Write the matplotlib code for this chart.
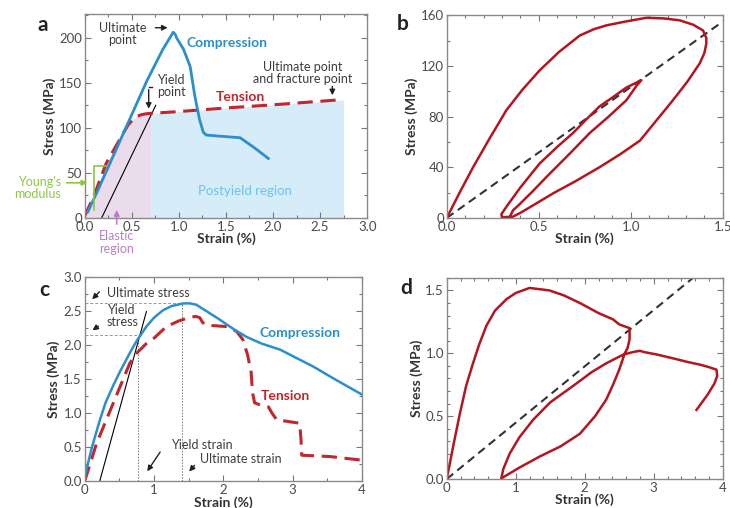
import matplotlib
matplotlib.use("Agg")
import matplotlib.pyplot as plt
from matplotlib.ticker import MultipleLocator

plt.rcParams['font.family'] = ['Lato', 'DejaVu Sans']

# colours
BLUE = '#2b8fcb'
RED = '#c1272d'
DARKRED = '#b3161f'
GREY = '#3c3c3c'
GREEN = '#8cc63f'
PURPLE = '#b681c6'

# panel a: compression vs tension
a_comp_x = [0.035, 0.15, 0.30, 0.48, 0.66, 0.83, 0.94, 0.96, 0.975, 1.05, 1.12, 1.17, 1.22, 1.26, 1.29, 1.40, 1.65, 1.80, 1.95]
a_comp_y = [7, 33, 68, 110, 152, 187, 206, 204, 200, 187, 168, 135, 109, 95, 92, 91, 89, 78, 66]
a_tens_x = [0.0, 0.10, 0.23, 0.41, 0.46, 0.51, 0.55, 0.60, 0.65, 0.70, 1.00, 1.50, 2.00, 2.70]
a_tens_y = [2, 25, 61, 94, 103, 109, 112.5, 114.5, 115.5, 116, 118, 122, 125.5, 131]
a_fit_x = [0.18, 0.755]
a_fit_y = [0, 125]
a_elastic_x = [0.0, 0.10, 0.23, 0.41, 0.46, 0.51, 0.55, 0.60, 0.65, 0.70]
a_elastic_y = [0, 25, 61, 94, 103, 109, 112.5, 114.5, 115.5, 116]
a_post_x = [0.70, 1.00, 1.50, 2.00, 2.75]
a_post_y = [116, 118, 122, 125.5, 131]

# panel b: loading loops
b_x = [0.0, 0.07, 0.143, 0.23, 0.324, 0.41, 0.505, 0.61, 0.723, 0.80, 0.868, 0.97, 1.085, 1.18, 1.266, 1.34, 1.393,
       1.411, 1.411, 1.40, 1.375, 1.31, 1.23, 1.14, 1.05, 0.94, 0.83, 0.70, 0.578, 0.47, 0.40, 0.36,
       0.30, 0.297, 0.33, 0.40, 0.505, 0.60, 0.686, 0.76, 0.83, 0.90, 0.977, 1.058,
       1.03, 0.977, 0.88, 0.777, 0.67, 0.56, 0.46, 0.39, 0.36, 0.34]
b_y = [0, 20, 40, 62, 85, 101, 116.5, 131, 144, 149, 152, 155, 158, 157.5, 156, 152.5, 148,
       142, 137.6, 130, 122, 108, 93, 77, 61, 50, 40, 29, 19.4, 10, 4, 1,
       0.5, 3, 10, 24, 43, 56, 67, 78, 88, 95, 103, 108.7,
       104, 93, 80, 67, 51, 35, 20, 10, 6, 0]
b_ref_x = [0.0, 1.5]
b_ref_y = [0, 155]

# panel c
c_comp_x = [0.0, 0.1, 0.217, 0.3, 0.41, 0.5, 0.65, 0.75, 0.89, 1.0, 1.13, 1.25, 1.42, 1.52, 1.61, 1.75,
            1.95, 2.15, 2.33, 2.55, 2.82, 3.05, 3.30, 3.6, 4.0]
c_comp_y = [0.06, 0.48, 0.89, 1.15, 1.40, 1.59, 1.88, 2.06, 2.27, 2.40, 2.51, 2.57, 2.61, 2.61, 2.59, 2.50,
            2.37, 2.23, 2.12, 2.02, 1.93, 1.81, 1.68, 1.50, 1.27]
c_tens_x = [0.0, 0.17, 0.41, 0.65, 0.75, 0.89, 1.0, 1.18, 1.35, 1.5, 1.6, 1.66, 1.70, 1.76, 2.05, 2.19, 2.28,
            2.35, 2.40, 2.42, 2.45, 2.55, 2.65, 2.70, 2.77, 3.10, 3.12, 3.13, 3.54, 3.97]
c_tens_y = [0.0, 0.55, 1.14, 1.73, 1.88, 2.02, 2.10, 2.27, 2.35, 2.40, 2.42, 2.40, 2.33, 2.29, 2.27, 2.20, 2.08,
            1.85, 1.60, 1.30, 1.15, 1.11, 1.09, 1.00, 0.90, 0.85, 0.60, 0.38, 0.36, 0.31]
c_fit_x = [0.217, 0.89]
c_fit_y = [0.0, 2.49]
c_yield_x, c_yield_y = 0.77, 2.14
c_ult_x, c_ult_y = 1.40, 2.61

# panel d
d_x = [0.0, 0.1, 0.19, 0.28, 0.38, 0.47, 0.575, 0.7, 0.865, 1.0, 1.2, 1.49, 1.7, 1.93, 2.2, 2.41, 2.5, 2.6, 2.65,
       2.65, 2.62, 2.58, 2.5, 2.41, 2.31, 2.15, 1.93, 1.65, 1.35, 1.05, 0.79,
       0.82, 0.91, 1.05, 1.25, 1.5, 1.83, 2.1, 2.31, 2.56, 2.70, 2.80, 2.86, 3.05, 3.28, 3.5, 3.67, 3.8, 3.91,
       3.92, 3.88, 3.78, 3.62]
d_y = [0.0, 0.28, 0.52, 0.74, 0.92, 1.07, 1.22, 1.34, 1.43, 1.48, 1.52, 1.50, 1.46, 1.40, 1.32, 1.27, 1.23, 1.21, 1.20,
       1.11, 1.04, 1.0, 0.87, 0.75, 0.63, 0.5, 0.36, 0.26, 0.18, 0.09, 0.005,
       0.08, 0.20, 0.33, 0.47, 0.61, 0.74, 0.85, 0.92, 0.99, 1.01, 1.02, 1.01, 0.99, 0.96, 0.93, 0.91, 0.89, 0.87,
       0.82, 0.76, 0.67, 0.55]
d_ref_x = [0.0, 3.57]
d_ref_y = [0.0, 1.60]


def style_axes(ax, xmaj, xmin, ymaj, ymin):
    ax.xaxis.set_major_locator(MultipleLocator(xmaj))
    ax.xaxis.set_minor_locator(MultipleLocator(xmin))
    ax.yaxis.set_major_locator(MultipleLocator(ymaj))
    ax.yaxis.set_minor_locator(MultipleLocator(ymin))
    ax.tick_params(which='both', direction='in', top=True, right=True, color='#777777',
                   labelsize=9.5, labelcolor='#4a4a4a', pad=2)
    ax.tick_params(which='major', length=4, width=0.8)
    ax.tick_params(which='minor', length=2.5, width=0.8)
    for s in ax.spines.values():
        s.set_color('#8a8a8a')
        s.set_linewidth(1.0)
    ax.set_xlabel('Strain (%)', fontsize=10, fontweight='bold', color='#333333', labelpad=0)
    ax.set_ylabel('Stress (MPa)', fontsize=10, fontweight='bold', color='#333333', labelpad=2)


fig = plt.figure(figsize=(7.3, 5.08), dpi=100)
ax_a = fig.add_axes([0.116, 0.571, 0.387, 0.401])
ax_b = fig.add_axes([0.612, 0.571, 0.378, 0.399])
ax_c = fig.add_axes([0.116, 0.053, 0.380, 0.402])
ax_d = fig.add_axes([0.612, 0.057, 0.378, 0.396])

arrow = dict(arrowstyle='-|>', color='#222222', lw=1.0, mutation_scale=8)

# ---- a
ax = ax_a
ax.fill_between(a_elastic_x, 0, a_elastic_y, color='#eadcec', lw=0)
ax.fill_between(a_post_x, 0, a_post_y, color='#d6ecf9', lw=0)
ax.plot(a_fit_x, a_fit_y, color='black', lw=0.8)
ax.plot(a_tens_x, a_tens_y, color=RED, lw=2.2, dashes=(5, 2.5))
ax.plot(a_comp_x, a_comp_y, color=BLUE, lw=2)
ax.set_xlim(0, 3.0)
ax.set_ylim(0, 226)
style_axes(ax, 0.5, 0.25, 50, 25)
ax.xaxis.set_major_formatter(lambda v, p: f'{v:.1f}')
ax.plot([0.096, 0.096, 0.23], [9, 58, 58], color=GREEN, lw=1.2, clip_on=False)
ax.text(-0.25, 33, "Young's\nmodulus", ha='right', va='center', color=GREEN, fontsize=9, linespacing=1.0)
ax.annotate('', xy=(0.06, 39), xytext=(-0.22, 39), annotation_clip=False,
            arrowprops=dict(arrowstyle='-|>', color=GREEN, lw=1.2, mutation_scale=8))
ax.annotate('Elastic\nregion', xy=(0.34, 12), xytext=(0.34, -13), ha='center', va='top',
            color=PURPLE, fontsize=9, linespacing=1.1, annotation_clip=False,
            arrowprops=dict(arrowstyle='-|>', color=PURPLE, lw=1.2, mutation_scale=8))
ax.text(1.70, 30, 'Postyield region', ha='center', va='center', color='#6cc3ea', fontsize=9.5)
ax.text(0.40, 204, 'Ultimate\npoint', ha='center', va='center', color=GREY, fontsize=9, linespacing=1.0)
ax.annotate('', xy=(0.91, 211), xytext=(0.72, 211), arrowprops=arrow)
ax.text(1.51, 194, 'Compression', ha='center', va='center', color=BLUE, fontsize=10, fontweight='bold')
ax.text(0.77, 146, 'Yield\npoint', ha='left', va='center', color=GREY, fontsize=9, linespacing=1.0)
ax.plot([0.72, 0.68], [145, 145], color='#222222', lw=1.0)
ax.annotate('', xy=(0.68, 118), xytext=(0.68, 145.5), arrowprops=arrow)
ax.text(1.65, 134, 'Tension', ha='center', va='center', color=RED, fontsize=10, fontweight='bold')
ax.text(2.32, 161, 'Ultimate point\nand fracture point', ha='center', va='center', color=GREY,
        fontsize=9, linespacing=1.05)
ax.annotate('', xy=(2.63, 133), xytext=(2.63, 149), arrowprops=arrow)
ax.text(-0.50, 214, 'a', fontsize=15, fontweight='bold', ha='left', va='center', color='#222222')

# ---- b
ax = ax_b
ax.plot(b_ref_x, b_ref_y, color='#333333', lw=1.5, dashes=(4, 2.5))
ax.plot(b_x, b_y, color=DARKRED, lw=1.8)
ax.set_xlim(0, 1.5)
ax.set_ylim(0, 160)
style_axes(ax, 0.5, 0.1, 40, 20)
ax.xaxis.set_major_formatter(lambda v, p: f'{v:.1f}')
ax.text(-0.27, 153, 'b', fontsize=15, fontweight='bold', ha='left', va='center', color='#222222')

# ---- c
ax = ax_c
ax.plot([0, 1.62], [c_ult_y, c_ult_y], color='#999999', lw=0.7, dashes=(3, 2))
ax.plot([0, c_yield_x], [c_yield_y, c_yield_y], color='#999999', lw=0.7, dashes=(3, 2))
ax.plot([c_yield_x, c_yield_x], [0, c_yield_y], color='#777777', lw=0.7, dashes=(1.5, 1.5))
ax.plot([c_ult_x, c_ult_x], [0, c_ult_y], color='#777777', lw=0.7, dashes=(1.5, 1.5))
ax.plot(c_fit_x, c_fit_y, color='black', lw=0.8)
ax.plot(c_tens_x, c_tens_y, color=RED, lw=2.2, dashes=(5, 2.5))
ax.plot(c_comp_x, c_comp_y, color=BLUE, lw=1.8)
ax.set_xlim(0, 4)
ax.set_ylim(0, 3.0)
style_axes(ax, 1, 0.5, 0.5, 0.25)
ax.yaxis.set_major_formatter(lambda v, p: f'{v:.1f}')
ax.text(0.32, 2.77, 'Ultimate stress', ha='left', va='center', color=GREY, fontsize=9)
ax.annotate('', xy=(0.08, 2.64), xytext=(0.24, 2.81), arrowprops=arrow)
ax.text(0.32, 2.42, 'Yield\nstress', ha='left', va='center', color=GREY, fontsize=9, linespacing=1.0)
ax.annotate('', xy=(0.08, 2.19), xytext=(0.23, 2.30), arrowprops=arrow)
ax.text(1.24, 0.53, 'Yield strain', ha='left', va='center', color=GREY, fontsize=9)
ax.annotate('', xy=(0.88, 0.11), xytext=(1.11, 0.46), arrowprops=arrow)
ax.text(1.66, 0.33, 'Ultimate strain', ha='left', va='center', color=GREY, fontsize=9)
ax.annotate('', xy=(1.48, 0.11), xytext=(1.61, 0.26), arrowprops=arrow)
ax.text(3.10, 2.18, 'Compression', ha='center', va='center', color=BLUE, fontsize=10, fontweight='bold')
ax.text(2.90, 1.25, 'Tension', ha='center', va='center', color=RED, fontsize=10, fontweight='bold')
ax.text(-0.66, 2.81, 'c', fontsize=15, fontweight='bold', ha='left', va='center', color='#222222')

# ---- d
ax = ax_d
ax.plot(d_ref_x, d_ref_y, color='#333333', lw=1.5, dashes=(4, 2.5))
ax.plot(d_x, d_y, color=DARKRED, lw=1.8)
ax.set_xlim(0, 4)
ax.set_ylim(0, 1.6)
style_axes(ax, 1, 0.2, 0.5, 0.1)
ax.yaxis.set_major_formatter(lambda v, p: f'{v:.1f}')
ax.text(-0.67, 1.52, 'd', fontsize=15, fontweight='bold', ha='left', va='center', color='#222222')

fig.savefig('out.png', dpi=100)
